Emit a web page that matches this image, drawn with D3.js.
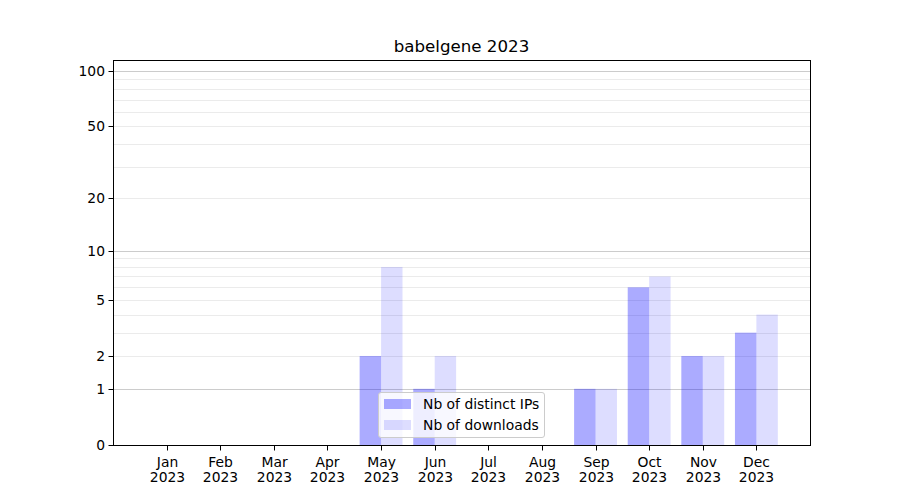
<!DOCTYPE html>
<html><head><meta charset="utf-8">
<script src="https://cdn.jsdelivr.net/npm/d3@7"></script>
<style>body{margin:0;background:#fff}svg text{font-family:"DejaVu Sans" !important}</style>
</head><body><svg id="c" width="900" height="500"></svg>
<script>
const months = ["Jan","Feb","Mar","Apr","May","Jun","Jul","Aug","Sep","Oct","Nov","Dec"];
const year = "2023";
const distinctIPs = [0,0,0,0,2,1,0,0,1,6,2,3];
const downloads = [0,0,0,0,8,2,0,0,1,7,2,4];
const yTicks = [0,1,2,5,10,20,50,100];
const majorGrid = [1,10,100];
const minorGrid = [2,3,4,5,6,7,8,9,20,30,40,50,60,70,80,90];
const seriesNames = ["Nb of distinct IPs","Nb of downloads"];
const title = "babelgene 2023";

const FONT = "DejaVu Sans";
const FS = 13.89;
const svg = d3.select("#c");
const L=113, R=810, T=60, B=445;
const x = d3.scaleLinear().domain([-1,12]).range([L,R]);
const y = d3.scaleSymlog().constant(1).domain([0,114.7]).range([B,T]);
const cy = v => Math.round(y(v))+0.5;

// grid
svg.append("g").selectAll("line").data(minorGrid).join("line")
  .attr("x1",L).attr("x2",R).attr("y1",cy).attr("y2",cy)
  .attr("stroke","#ebebeb").attr("stroke-width",1);
svg.append("g").selectAll("line").data(majorGrid).join("line")
  .attr("x1",L).attr("x2",R).attr("y1",cy).attr("y2",cy)
  .attr("stroke","#cccccc").attr("stroke-width",1);

const bw = 0.4;
const bars = svg.append("g");
bars.selectAll("rect.ip").data(distinctIPs).join("rect").attr("class","ip")
  .attr("x",(d,i)=>x(i-bw)).attr("width",x(bw)-x(0))
  .attr("y",d=>y(d)).attr("height",d=>B-y(d))
  .attr("fill","blue").attr("fill-opacity",0.33);
bars.selectAll("rect.dl").data(downloads).join("rect").attr("class","dl")
  .attr("x",(d,i)=>x(i)).attr("width",x(bw)-x(0))
  .attr("y",d=>y(d)).attr("height",d=>B-y(d))
  .attr("fill","blue").attr("fill-opacity",0.135);

// axes
const yAxis = d3.axisLeft(y).tickValues(yTicks).tickFormat(d3.format("d")).tickSize(5).tickPadding(3.5);
const gy = svg.append("g").attr("transform",`translate(${L+0.5},0)`).call(yAxis);
gy.selectAll(".tick").attr("transform",d=>`translate(0,${cy(d)})`);
const xAxis = d3.axisBottom(x).tickValues(d3.range(12)).tickFormat(()=>"").tickSize(5);
const gx = svg.append("g").attr("transform",`translate(0,${B+0.5})`).call(xAxis);
gx.selectAll(".tick").attr("transform",d=>`translate(${Math.round(x(d))+0.5},0)`);
[gy,gx].forEach(g=>{g.attr("font-family",FONT).attr("font-size",FS);
  g.select(".domain").remove();g.selectAll("line").attr("stroke","#000").attr("stroke-width",1);
  g.selectAll("text").attr("font-size",FS).attr("fill","#000").attr("font-family",FONT);});
gx.selectAll(".tick").each(function(d){
  const t=d3.select(this).append("text").attr("fill","#000").attr("font-size",FS)
    .attr("font-family",FONT).attr("text-anchor","middle");
  t.append("tspan").attr("x",0).attr("y",21).text(months[d]);
  t.append("tspan").attr("x",0).attr("y",36).text(year);
});
svg.append("rect").attr("x",L+0.5).attr("y",T+0.5).attr("width",R-L).attr("height",B-T)
  .attr("fill","none").attr("stroke","#000").attr("stroke-width",1);

svg.append("text").attr("x",(L+R)/2).attr("y",52).attr("text-anchor","middle")
  .attr("font-family",FONT).attr("font-size",16.67).text(title);

// legend
const lg = svg.append("g");
lg.append("rect").attr("x",378.5).attr("y",392.5).attr("width",166).attr("height",45).attr("rx",2.5)
  .attr("fill","#fff").attr("fill-opacity",0.8).attr("stroke","#cccccc").attr("stroke-width",1);
const op=[0.33,0.135];
seriesNames.forEach((n,i)=>{
  const yy=399+i*21;
  lg.append("rect").attr("x",384).attr("y",yy).attr("width",27).attr("height",10)
    .attr("fill","blue").attr("fill-opacity",op[i]);
  lg.append("text").attr("x",423).attr("y",yy+10).attr("font-family",FONT).attr("font-size",FS).text(n);
});
</script></body></html>
